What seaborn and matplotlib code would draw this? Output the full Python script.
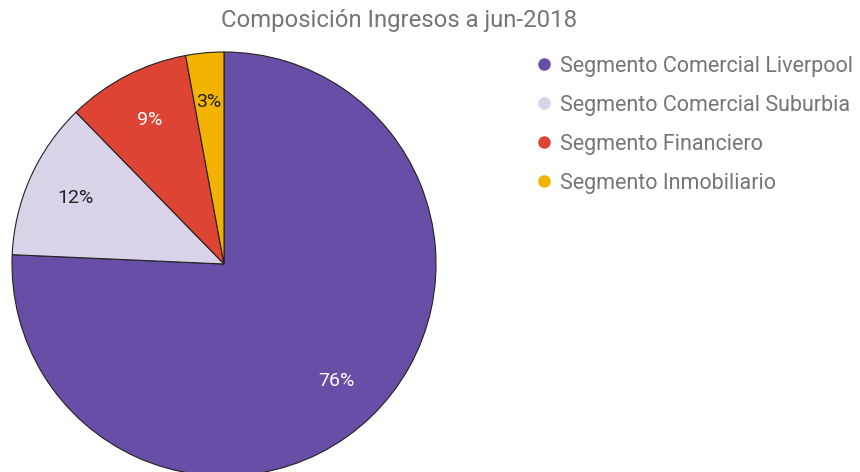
import matplotlib
matplotlib.use("Agg")
import matplotlib.pyplot as plt
import seaborn as sns
from matplotlib.lines import Line2D

sns.set_theme(style="white")
plt.rcParams['font.family'] = ['Roboto', 'DejaVu Sans']

categories = ["Segmento Comercial Liverpool", "Segmento Comercial Suburbia",
              "Segmento Financiero", "Segmento Inmobiliario"]
values = [75.7, 12.0, 9.4, 2.9]
colors = ["#674ea7", "#d9d2e9", "#dd4433", "#f1b300"]
label_colors = ["white", "#222222", "white", "#222222"]

W, H = 860, 472
fig = plt.figure(figsize=(W / 100, H / 100), dpi=100)
cx, cy, r = 224, 264, 212
half = 224
ax = fig.add_axes([(cx - half) / W, (H - cy - half) / H, 2 * half / W, 2 * half / H])

wedges, texts, autotexts = ax.pie(
    values, colors=colors, startangle=90, counterclock=False,
    autopct=lambda p: f"{p:.0f}%", pctdistance=0.765,
    wedgeprops=dict(edgecolor="#222222", linewidth=0.8),
    textprops=dict(fontsize=14))
for t, c in zip(autotexts, label_colors):
    t.set_color(c)
lim = half / r
ax.set_xlim(-lim, lim)
ax.set_ylim(-lim, lim)
ax.set_aspect("equal")
ax.axis("off")

fig.text(399 / W, 1 - 20 / H, "Composición Ingresos a jun-2018", ha="center", va="center",
         fontsize=17.2, color="#757575")

handles = [Line2D([0], [0], marker="o", linestyle="", markersize=8,
                  markerfacecolor=c, markeredgecolor=c) for c in colors]
leg = fig.legend(handles, categories, loc="upper left",
                 bbox_to_anchor=(525 / W, 1 - 47 / H), frameon=False,
                 fontsize=15.5, labelspacing=0.84, handletextpad=0.22,
                 handlelength=1.0, borderaxespad=0)
for t in leg.get_texts():
    t.set_color("#757575")

fig.savefig("out.png", dpi=100)
